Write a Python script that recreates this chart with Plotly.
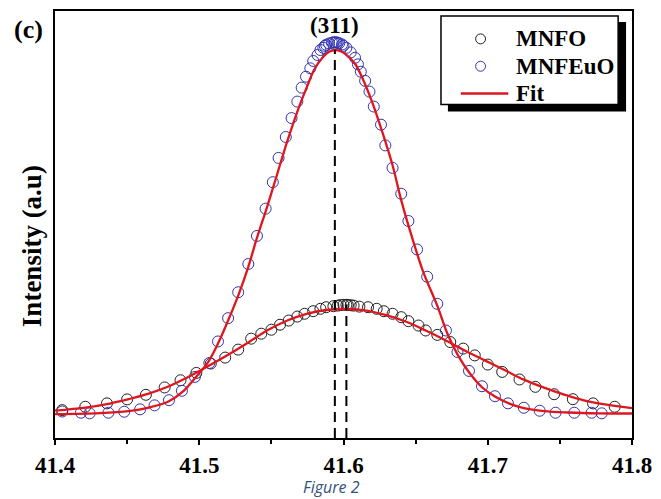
import plotly.graph_objects as go

# (311) reflection, measured points (2theta in degrees, intensity in a.u.)
theta_mnfo = [41.405, 41.421, 41.436, 41.450, 41.463, 41.476, 41.487, 41.498, 41.508, 41.518,
              41.527, 41.536, 41.543, 41.550, 41.556, 41.562, 41.568, 41.573, 41.579, 41.584,
              41.588, 41.593, 41.596, 41.598, 41.600, 41.602, 41.603, 41.605, 41.607, 41.611,
              41.617, 41.623, 41.628, 41.634, 41.640, 41.645, 41.652, 41.657, 41.665, 41.674,
              41.683, 41.691, 41.700, 41.710, 41.722, 41.733, 41.746, 41.759, 41.773, 41.788]
int_mnfo = [140, 157, 174, 194, 217, 254, 290, 327, 374, 404,
            444, 499, 524, 544, 569, 590, 610, 624, 637, 649,
            657, 662, 665, 668, 669, 669, 668, 667, 665, 660,
            657, 649, 637, 624, 607, 587, 565, 540, 518, 482,
            449, 415, 369, 332, 294, 257, 220, 195, 174, 157]

theta_mnfeuo = [41.405, 41.418, 41.424, 41.437, 41.448, 41.459, 41.469, 41.479, 41.488, 41.497,
                41.507, 41.513, 41.520, 41.527, 41.534, 41.540, 41.546, 41.551, 41.555, 41.560,
                41.564, 41.568, 41.571, 41.574, 41.577, 41.579, 41.582, 41.584, 41.586, 41.587,
                41.588, 41.590, 41.592, 41.593, 41.594, 41.595, 41.596, 41.597, 41.599, 41.600,
                41.602, 41.605, 41.608, 41.610, 41.612, 41.615, 41.618, 41.621, 41.626, 41.629,
                41.634, 41.640, 41.645, 41.651, 41.658, 41.665, 41.671, 41.679, 41.687, 41.696,
                41.705, 41.714, 41.725, 41.736, 41.747, 41.760, 41.772, 41.779]
int_mnfeuo = [133, 127, 124, 127, 132, 144, 164, 190, 237, 307,
              377, 485, 602, 732, 874, 1015, 1152, 1285, 1407, 1512,
              1607, 1690, 1760, 1815, 1857, 1894, 1924, 1949, 1960, 1970,
              1975, 1982, 1985, 1988, 1987, 1988, 1985, 1983, 1977, 1970,
              1960, 1937, 1910, 1877, 1840, 1794, 1740, 1665, 1574, 1470,
              1357, 1227, 1090, 947, 810, 674, 540, 432, 337, 260,
              210, 174, 152, 137, 127, 127, 127, 124]

# Fitted profiles
fit_theta_mnfo = [41.400, 41.421, 41.438, 41.451, 41.465, 41.479, 41.492, 41.506, 41.520, 41.534,
                  41.547, 41.561, 41.575, 41.588, 41.602, 41.616, 41.629, 41.643, 41.657, 41.671,
                  41.684, 41.698, 41.712, 41.725, 41.739, 41.753, 41.766, 41.780, 41.800]
fit_int_mnfo = [138, 153, 173, 195, 223, 260, 305, 360, 418, 480,
                540, 590, 625, 643, 648, 640, 618, 585, 540, 490,
                440, 390, 340, 293, 253, 218, 190, 170, 150]

fit_theta_mnfeuo = [41.400, 41.431, 41.451, 41.465, 41.479, 41.489, 41.497, 41.506, 41.513, 41.520,
                    41.527, 41.534, 41.540, 41.547, 41.554, 41.561, 41.568, 41.575, 41.580, 41.586,
                    41.590, 41.594, 41.598, 41.602, 41.608, 41.613, 41.620, 41.627, 41.634, 41.640,
                    41.647, 41.655, 41.665, 41.672, 41.679, 41.687, 41.696, 41.705, 41.715, 41.725,
                    41.739, 41.756, 41.777, 41.800]
fit_int_mnfeuo = [120, 125, 135, 153, 185, 235, 300, 380, 475, 590,
                  715, 860, 1005, 1160, 1325, 1490, 1640, 1770, 1855, 1915,
                  1940, 1949, 1943, 1925, 1880, 1810, 1685, 1535, 1370, 1195,
                  1020, 840, 665, 525, 420, 330, 255, 208, 173, 150,
                  135, 128, 124, 123]

# Peak positions marked with dashed drop lines
peak_theta = [41.594, 41.602]
peak_height = [1950, 670]

x_ticks = [41.4, 41.5, 41.6, 41.7, 41.8]
x_ticktext = ["41.4", "41.5", "41.6", "41.7", "41.8"]

SERIF = "Liberation Serif"
RED = "rgb(222,22,30)"
BLUE = "#3232B4"
BLACK_MK = "#202020"

W, H = 661, 499
L, R, T, B = 55, 23, 9, 61
PW, PH = W - L - R, H - T - B


def px(xpix):
    return (xpix - L) / PW


def py(ypix):
    return (H - B - ypix) / PH


fig = go.Figure()

fig.add_trace(go.Scatter(x=theta_mnfo, y=int_mnfo, mode="markers", name="MNFO",
                         marker=dict(symbol="circle-open", size=11, color=BLACK_MK,
                                     line=dict(width=1, color=BLACK_MK))))
fig.add_trace(go.Scatter(x=theta_mnfeuo, y=int_mnfeuo, mode="markers", name="MNFEuO",
                         marker=dict(symbol="circle-open", size=11, color=BLUE,
                                     line=dict(width=1, color=BLUE))))
fig.add_trace(go.Scatter(x=fit_theta_mnfo, y=fit_int_mnfo, mode="lines", name="Fit",
                         line=dict(color=RED, width=2.3, shape="spline", smoothing=1)))
fig.add_trace(go.Scatter(x=fit_theta_mnfeuo, y=fit_int_mnfeuo, mode="lines", name="Fit",
                         showlegend=False,
                         line=dict(color=RED, width=2.3, shape="spline", smoothing=1)))
for pt, ph in zip(peak_theta, peak_height):
    fig.add_trace(go.Scatter(x=[pt, pt], y=[0, ph], mode="lines", showlegend=False,
                             line=dict(color="black", width=2, dash="10px,6px")))

shapes = [
    # legend shadow and box
    dict(type="rect", xref="paper", yref="paper", x0=px(452), x1=px(632), y0=py(110), y1=py(20),
         fillcolor="black", line=dict(width=0)),
    dict(type="rect", xref="paper", yref="paper", x0=px(445), x1=px(624), y0=py(103), y1=py(14),
         fillcolor="white", line=dict(color="black", width=1.5)),
    dict(type="circle", xref="paper", yref="paper", x0=px(480), x1=px(490), y0=py(42), y1=py(32),
         line=dict(color=BLACK_MK, width=1)),
    dict(type="circle", xref="paper", yref="paper", x0=px(480), x1=px(490), y0=py(69.5), y1=py(59.5),
         line=dict(color=BLUE, width=1)),
    dict(type="line", xref="paper", yref="paper", x0=px(465), x1=px(513), y0=py(92), y1=py(92),
         line=dict(color=RED, width=2.5)),
    # white band under the tick labels, where the caption sits
    dict(type="rect", xref="paper", yref="paper", x0=-0.2, x1=1.2, y0=py(499), y1=py(474),
         fillcolor="white", line=dict(width=0)),
]

bold = dict(family=SERIF, color="black", weight="bold")
annotations = [
    dict(text="MNFO", xref="paper", yref="paper", x=px(519), y=py(37), xanchor="left",
         yanchor="middle", showarrow=False, font=dict(size=23, **bold)),
    dict(text="MNFEuO", xref="paper", yref="paper", x=px(519), y=py(64.5), xanchor="left",
         yanchor="middle", showarrow=False, font=dict(size=23, **bold)),
    dict(text="Fit", xref="paper", yref="paper", x=px(519), y=py(92), xanchor="left",
         yanchor="middle", showarrow=False, font=dict(size=23, **bold)),
    dict(text="(311)", xref="x", yref="paper", x=peak_theta[0], y=py(24), xanchor="center",
         yanchor="middle", showarrow=False, font=dict(size=23, **bold)),
    dict(text="(c)", xref="paper", yref="paper", x=px(28), y=py(28), xanchor="center",
         yanchor="middle", showarrow=False, font=dict(size=26, **bold)),
    dict(text="Intensity (a.u)", xref="paper", yref="paper", x=px(32), y=py(245),
         xanchor="center", yanchor="middle", textangle=-90, showarrow=False,
         font=dict(size=27, **bold)),
    dict(text="Figure 2", xref="paper", yref="paper", x=px(334), y=py(487), xanchor="center",
         yanchor="middle", showarrow=False, borderpad=0,
         font=dict(family="Open Sans", size=16, color="#34527A", style="italic")),
]

fig.update_layout(
    width=W, height=H, autosize=False,
    margin=dict(l=L, r=R, t=T, b=B, pad=0),
    paper_bgcolor="white", plot_bgcolor="white",
    showlegend=False,
    shapes=shapes, annotations=annotations,
    xaxis=dict(range=[41.4, 41.8], tickvals=x_ticks, ticktext=x_ticktext,
               showline=True, mirror=True, linecolor="black", linewidth=2,
               ticks="outside", ticklen=5, tickwidth=2, tickcolor="black",
               minor=dict(ticks="outside", ticklen=4, tickwidth=2, tickcolor="black",
                          dtick=0.05, tick0=41.4),
               showgrid=False, zeroline=False,
               tickfont=dict(size=23, **bold)),
    yaxis=dict(range=[0, 2145], showticklabels=False, ticks="",
               showline=True, mirror=True, linecolor="black", linewidth=2,
               showgrid=False, zeroline=False),
)

fig.write_html("out.html")
